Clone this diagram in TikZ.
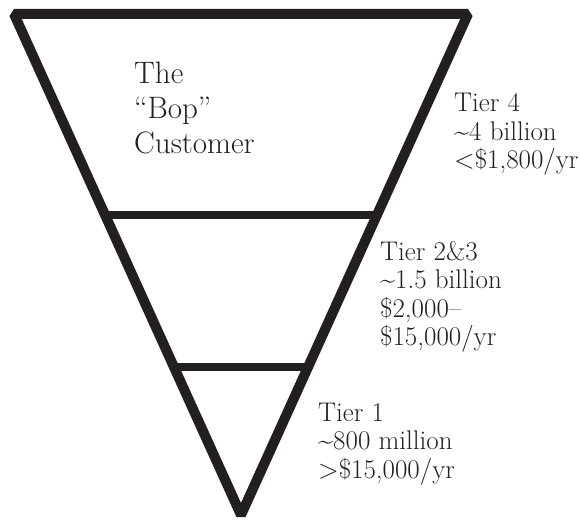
\documentclass[tikz,border=0pt]{standalone}
\usetikzlibrary{calc}
\definecolor{ink}{HTML}{231F20}
\begin{document}
\begin{tikzpicture}[x=1pt,y=-1pt,
    tier/.style={anchor=base west,align=left,inner sep=0pt,text=ink,font=\fontsize{27}{28.5}\selectfont}]
    \useasboundingbox (0,0) rectangle (580,521);
    \coordinate (tl) at (14,14);
    \coordinate (tr) at (468,14);
    \coordinate (apex) at (241,515);
    \draw[ink,line width=10pt,line join=bevel] (tl) -- (tr) -- (apex) -- cycle;
    \draw[ink,line width=8pt] ($(tl)!0.401!(apex)$) -- ($(tr)!0.401!(apex)$);
    \draw[ink,line width=8pt] ($(tl)!0.7046!(apex)$) -- ($(tr)!0.7046!(apex)$);
    % anchors sit on the last line of each text
    \node[tier,font=\fontsize{31}{35}\selectfont] (bop) at (134,154) {The\\``Bop''\\Customer};
    \node[tier] (tier4) at (454,169) {Tier 4\\\textasciitilde4 billion\\<\$1,800/yr};
    \node[tier] (tier23) at (380,345.5) {Tier 2\&3\\\textasciitilde1.5 billion\\\$2,000--\\\$15,000/yr};
    \node[tier] (tier1) at (318,478) {Tier 1\\\textasciitilde800 million\\>\$15,000/yr};
\end{tikzpicture}
\end{document}
